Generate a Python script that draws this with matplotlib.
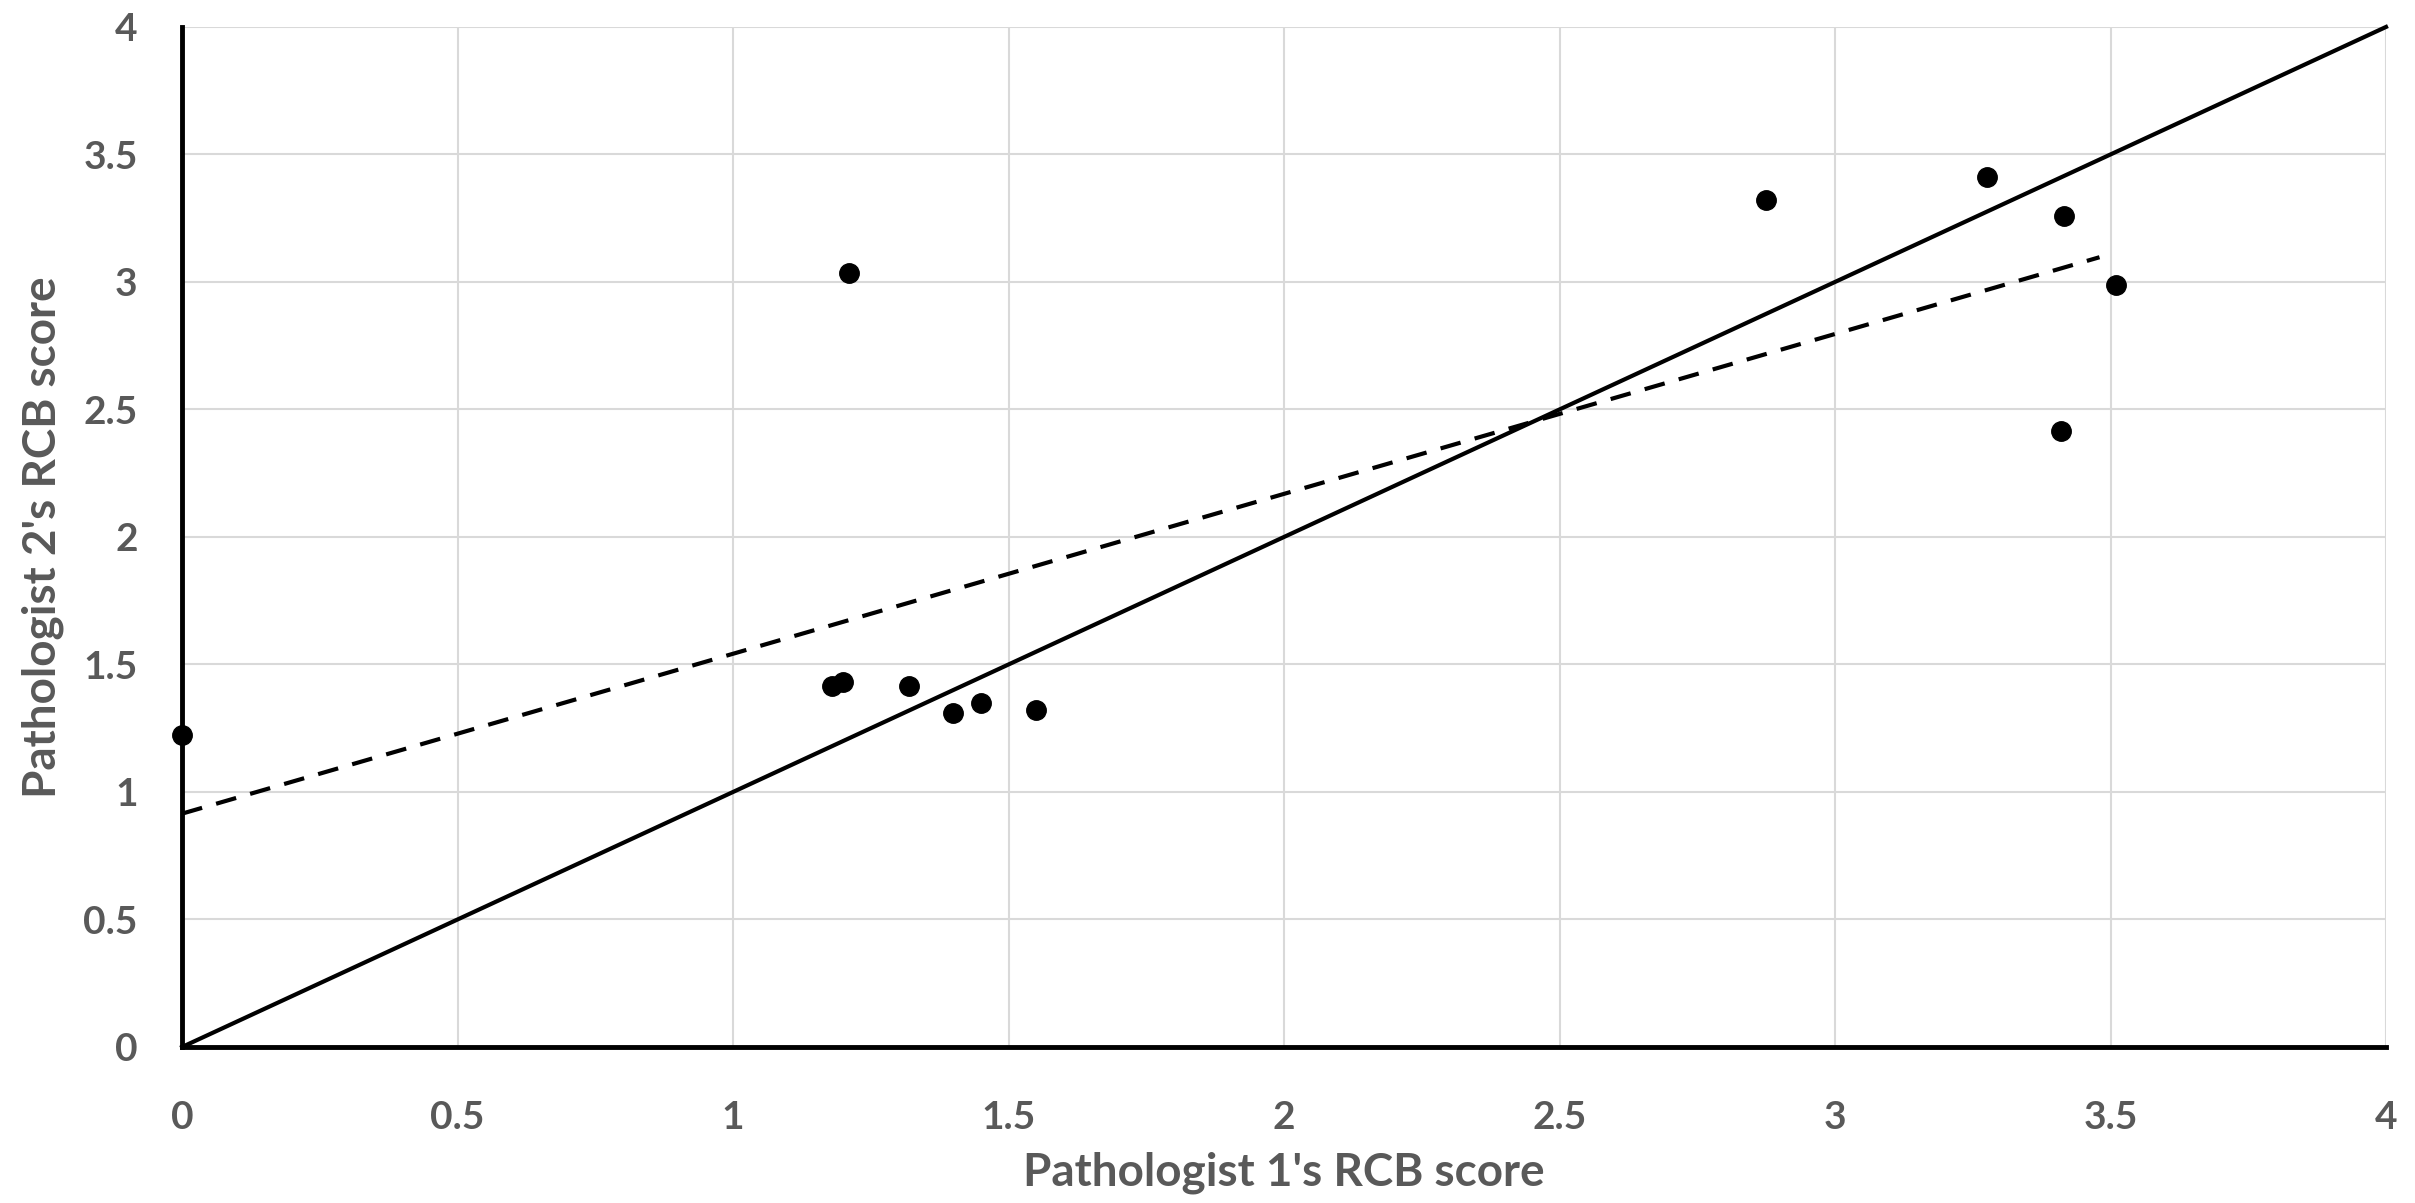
import matplotlib.pyplot as plt
import numpy as np

# RCB scores
path1_scores = [0.0, 1.18, 1.20, 1.21, 1.32, 1.40, 1.45, 1.55, 2.875, 3.275, 3.415, 3.41, 3.51]
path2_scores = [1.225, 1.417, 1.43, 3.035, 1.414, 1.31, 1.35, 1.32, 3.32, 3.41, 3.26, 2.415, 2.99]

# identity line and linear trendline (as drawn)
identity_x = [0, 4]
trend_intercept = 0.915
trend_slope = 0.627
trend_x = [0, 3.48]

ticks = [0, 0.5, 1, 1.5, 2, 2.5, 3, 3.5, 4]
tick_labels = ['0', '0.5', '1', '1.5', '2', '2.5', '3', '3.5', '4']

plt.rcParams['font.family'] = ['Lato', 'DejaVu Sans']
gray = '#595959'

fig = plt.figure(figsize=(24.15, 12.03), dpi=100)
ax = fig.add_axes([0.0754, 0.1297, 0.9126, 0.8479])

ax.plot(identity_x, identity_x, color='black', lw=3.0, zorder=3, clip_on=False)
tx = np.array(trend_x)
ax.plot(tx, trend_intercept + trend_slope * tx, color='black', lw=3.0,
        dashes=(5, 3.5), zorder=3)
ax.plot(path1_scores, path2_scores, 'o', color='black', markersize=14,
        zorder=4, clip_on=False)

ax.set_xlim(0, 4)
ax.set_ylim(0, 4)
ax.set_xticks(ticks)
ax.set_yticks(ticks)
ax.set_xticklabels(tick_labels)
ax.set_yticklabels(tick_labels)
ax.grid(True, color='#d9d9d9', lw=1.5, zorder=0)
ax.set_axisbelow(True)

for side in ['top', 'right']:
    ax.spines[side].set_visible(False)
for side in ['left', 'bottom']:
    ax.spines[side].set_linewidth(3.5)
    ax.spines[side].set_color('black')
    ax.spines[side].set_zorder(5)

ax.tick_params(length=0, labelsize=28, labelcolor=gray)
ax.tick_params(axis='x', pad=38)
ax.tick_params(axis='y', pad=32)
for lab in ax.get_xticklabels() + ax.get_yticklabels():
    lab.set_fontweight('bold')

ax.set_xlabel("Pathologist 1's RCB score", fontsize=33, fontweight='bold',
              color=gray, labelpad=12)
ax.set_ylabel("Pathologist 2's RCB score", fontsize=33, fontweight='bold',
              color=gray, labelpad=14)

fig.savefig('out.png', dpi=100)
